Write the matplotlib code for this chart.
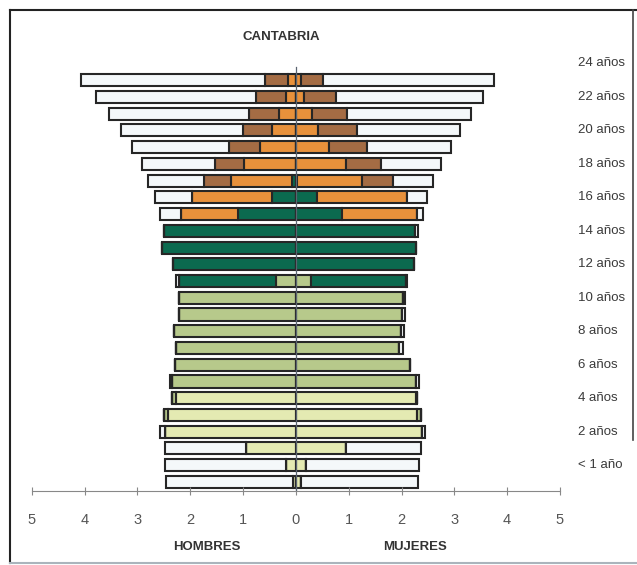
import numpy as np
import matplotlib
matplotlib.use('Agg')
import matplotlib.pyplot as plt
from matplotlib.lines import Line2D

plt.rcParams['font.family'] = ['Liberation Sans', 'DejaVu Sans']

# filas 0..24 (de abajo a arriba)
filas = np.arange(25)

# Hombres: valores por nivel (en %)
h_infantil = [0.06, 0.18, 0.95, 2.47, 2.42, 2.26, 0, 0, 0, 0, 0, 0, 0, 0, 0, 0, 0, 0, 0, 0, 0, 0, 0, 0, 0]
h_primaria = [0, 0, 0, 0, 0.08, 0.08, 2.35, 2.28, 2.26, 2.31, 2.21, 2.21, 0.38, 0, 0, 0, 0, 0, 0, 0, 0, 0, 0, 0, 0]
h_eso = [0, 0, 0, 0, 0, 0, 0, 0, 0, 0, 0, 0, 1.83, 2.33, 2.53, 2.50, 1.09, 0.46, 0.07, 0, 0, 0, 0, 0, 0]
h_bach = [0, 0, 0, 0, 0, 0, 0, 0, 0, 0, 0, 0, 0, 0, 0, 0, 1.09, 1.50, 1.16, 0.98, 0.68, 0.45, 0.32, 0.18, 0.15]
h_univ = [0, 0, 0, 0, 0, 0, 0, 0, 0, 0, 0, 0, 0, 0, 0, 0, 0, 0, 0.50, 0.55, 0.58, 0.55, 0.56, 0.57, 0.44]
h_no = [2.39, 2.29, 1.53, 0.11, 0, 0, 0.04, 0, 0, 0, 0, 0, 0.06, 0, 0, 0, 0.40, 0.70, 1.07, 1.39, 1.84, 2.31, 2.66, 3.04, 3.48]

# Mujeres
m_infantil = [0.09, 0.19, 0.95, 2.39, 2.30, 2.27, 0, 0, 0, 0, 0, 0, 0, 0, 0, 0, 0, 0, 0, 0, 0, 0, 0, 0, 0]
m_primaria = [0, 0, 0, 0, 0.06, 0.03, 2.27, 2.16, 1.96, 1.99, 2.01, 2.02, 0.28, 0, 0, 0, 0, 0, 0, 0, 0, 0, 0, 0, 0]
m_eso = [0, 0, 0, 0, 0, 0, 0, 0, 0, 0, 0, 0, 1.80, 2.23, 2.27, 2.26, 0.88, 0.40, 0.03, 0, 0, 0, 0, 0, 0]
m_bach = [0, 0, 0, 0, 0, 0, 0, 0, 0, 0, 0, 0, 0, 0, 0, 0, 1.42, 1.71, 1.23, 0.94, 0.62, 0.41, 0.31, 0.15, 0.10]
m_univ = [0, 0, 0, 0, 0, 0, 0, 0, 0, 0, 0, 0, 0, 0, 0, 0, 0, 0, 0.57, 0.68, 0.73, 0.75, 0.66, 0.61, 0.41]
m_no = [2.23, 2.15, 1.41, 0.05, 0, 0, 0.06, 0, 0.06, 0.05, 0.05, 0.05, 0.03, 0, 0, 0.06, 0.11, 0.38, 0.77, 1.13, 1.58, 1.94, 2.34, 2.79, 3.25]

etiquetas = ['< 1 año', '2 años', '4 años', '6 años', '8 años', '10 años', '12 años',
             '14 años', '16 años', '18 años', '20 años', '22 años', '24 años']
pos_etiquetas = [1, 3, 5, 7, 9, 11, 13, 15, 17, 19, 21, 23, 25]

colores = ['#e4eab2', '#b7c98b', '#0b6a4f', '#e8913b', '#a46c44', '#f4f8fa']
hombres = [h_infantil, h_primaria, h_eso, h_bach, h_univ, h_no]
mujeres = [m_infantil, m_primaria, m_eso, m_bach, m_univ, m_no]

W, H = 637, 565
fig = plt.figure(figsize=(W / 100, H / 100), dpi=100)
ax = fig.add_axes([31.7 / W, (H - 491) / H, 528.3 / W, (491 - 55) / H])

alto = 0.72
acum = np.zeros(25)
for vals, col in zip(hombres, colores):
    vals = np.asarray(vals)
    ax.barh(filas, -vals, left=-acum, height=alto, color=col, edgecolor='#262626', linewidth=1.5)
    acum += vals
acum = np.zeros(25)
for vals, col in zip(mujeres, colores):
    vals = np.asarray(vals)
    ax.barh(filas, vals, left=acum, height=alto, color=col, edgecolor='#262626', linewidth=1.5)
    acum += vals

ax.plot([0, 0], [-0.54, 24.8], color='#5a6470', lw=0.9, zorder=5)

ax.set_xlim(-5, 5)
ax.set_ylim(-0.54, 25.5)
ax.set_xticks(range(-5, 6))
ax.set_xticklabels([str(abs(t)) for t in range(-5, 6)], color='#555555', fontsize=10.5)
ax.tick_params(axis='x', direction='inout', length=6, color='#888888', pad=13)
ax.set_yticks([])
for s in ['left', 'right', 'top']:
    ax.spines[s].set_visible(False)
ax.spines['bottom'].set_color('#888888')

for p, t in zip(pos_etiquetas, etiquetas):
    ax.text(5.34, p, t, ha='left', va='center', fontsize=9.5, color='#3a3a3a', clip_on=False)

fig.text(281 / W, 1 - 37 / H, 'CANTABRIA', ha='center', va='center', fontsize=9.5, fontweight='bold', color='#333333')
fig.text(207 / W, 1 - 547 / H, 'HOMBRES', ha='center', va='center', fontsize=9.5, fontweight='bold', color='#333333')
fig.text(415 / W, 1 - 547 / H, 'MUJERES', ha='center', va='center', fontsize=9.5, fontweight='bold', color='#333333')

# marco
fig.add_artist(Line2D([10 / W, 1], [1 - 10 / H, 1 - 10 / H], color='#222222', lw=1.5))
fig.add_artist(Line2D([10 / W, 10 / W], [1 - 10 / H, 1 - 563 / H], color='#222222', lw=1.5))
fig.add_artist(Line2D([10 / W, 1], [1 - 563 / H, 1 - 563 / H], color='#aab4bc', lw=1.5))
fig.add_artist(Line2D([633 / W, 633 / W], [1 - 10 / H, 1 - 440 / H], color='#444444', lw=1.2))

fig.savefig('out.png', dpi=100)
